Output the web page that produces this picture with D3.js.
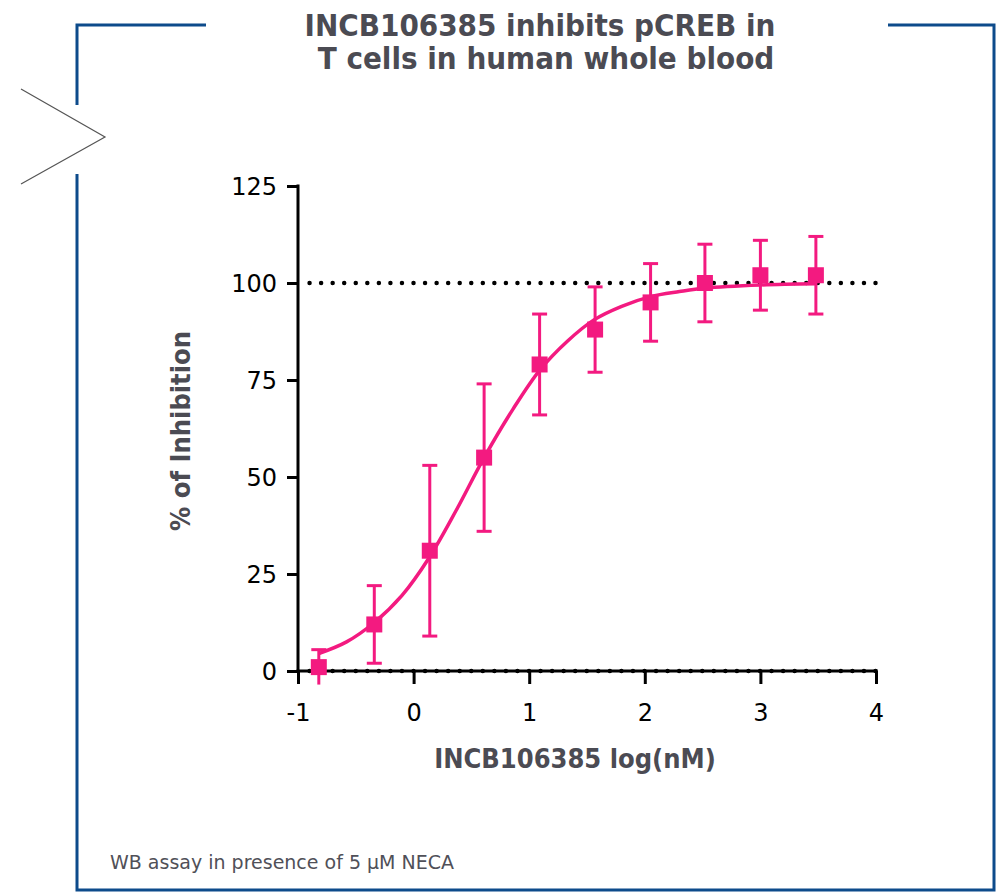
<!DOCTYPE html>
<html>
<head>
<meta charset="utf-8">
<script src="https://cdn.jsdelivr.net/npm/d3@7"></script>
<style>
  body { margin: 0; background: #fff; }
  svg { display: block; }
  .tick text { font-family: "DejaVu Sans", sans-serif; font-size: 24px; fill: #000; }
  .title-text { font-family: "DejaVu Sans Condensed", "DejaVu Sans", sans-serif; font-weight: bold; font-size: 31px; fill: #4b4b53; }
  .aText { font-family: "DejaVu Sans Condensed", "DejaVu Sans", sans-serif; font-weight: bold; font-size: 27px; fill: #4b4b53; }
  .note { font-family: "DejaVu Sans", sans-serif; font-size: 19px; fill: #505058; }
</style>
</head>
<body>
<div class="chart"></div>
<script>
var svgWidth = 999;
var svgHeight = 894;

// data
var logConc = [-0.82, -0.34, 0.14, 0.61, 1.09, 1.57, 2.05, 2.52, 3.00, 3.48];
var meanInh = [1, 12, 31, 55, 79, 88, 95, 100, 102, 102];
var errInh = [4.5, 10, 22, 19, 13, 11, 10, 10, 9, 10];

// fitted curve, points
var fitX = [-0.82, -0.58, -0.34, -0.1, 0.13, 0.37, 0.61, 0.86, 1.09, 1.33, 1.56, 1.8, 2.05, 2.3, 2.52, 3.0, 3.48];
var fitY = [4.5, 7.5, 12.5, 19.5, 29, 41.5, 55, 67.5, 77.5, 85, 90.5, 94, 96.5, 97.8, 98.7, 99.5, 99.8];

var xTicks = [-1, 0, 1, 2, 3, 4];
var yTicks = [0, 25, 50, 75, 100, 125];
var refLines = [0, 100];

var pink = "#f31a80";
var frameBlue = "#0d4b8b";

// plot area
var margin = { top: 186, left: 298 };
var width = 876 - 298;
var height = 671 - 186;

var svg = d3.select(".chart").append("svg")
  .attr("width", svgWidth)
  .attr("height", svgHeight);

// outer frame with the open corners
var frame = "M206,25 H77 V105 M77,174 V890 H994 V25 H888";
svg.append("path")
  .attr("d", frame)
  .attr("fill", "none")
  .attr("stroke", frameBlue)
  .attr("stroke-width", 3);

// arrow notch on the left
svg.append("path")
  .attr("d", "M21,89 L105,137 L21,184")
  .attr("fill", "none")
  .attr("stroke", "#555")
  .attr("stroke-width", 1.2);

// title
var title = svg.append("text")
  .classed("title-text", true)
  .attr("text-anchor", "middle");
title.append("tspan").attr("x", 540).attr("y", 36).text("INCB106385 inhibits pCREB in");
title.append("tspan").attr("x", 546).attr("y", 69).text("T cells in human whole blood");

var chartGroup = svg.append("g")
  .attr("transform", `translate(${margin.left}, ${margin.top})`);

var xScale = d3.scaleLinear().domain([-1, 4]).range([0, width]);
var yScale = d3.scaleLinear().domain([0, 125]).range([height, 0]);

// dotted reference lines
chartGroup.selectAll(".ref")
  .data(refLines)
  .enter()
  .append("line")
  .attr("x1", xScale(-0.9))
  .attr("x2", xScale(4))
  .attr("y1", d => yScale(d))
  .attr("y2", d => yScale(d))
  .attr("stroke", "#000")
  .attr("stroke-width", 4.5)
  .attr("stroke-linecap", "round")
  .attr("stroke-dasharray", "0 11.55");

// axes
var bottomAxis = d3.axisBottom(xScale).tickValues(xTicks).tickFormat(d => String(d))
  .tickSize(13).tickSizeOuter(0).tickPadding(20);
var leftAxis = d3.axisLeft(yScale).tickValues(yTicks)
  .tickSize(11).tickSizeOuter(0).tickPadding(10);

var xAxis = chartGroup.append("g")
  .attr("transform", `translate(0, ${height})`)
  .call(bottomAxis);

var yAxis = chartGroup.append("g")
  .call(leftAxis);

[xAxis, yAxis].forEach(function(ax) {
  ax.select(".domain").attr("stroke", "#000").attr("stroke-width", 3);
  ax.selectAll(".tick line").attr("stroke", "#000").attr("stroke-width", 3);
});
xAxis.select(".domain").attr("d", `M-1.5,0H${width + 1.5}`);
yAxis.select(".domain").attr("d", `M0,-1.5V${height}`);
yAxis.selectAll(".tick text").attr("dy", "0.36em");
xAxis.selectAll(".tick text").attr("dy", "0.7em");

// fitted curve
var fitData = fitX.map((x, i) => ({ x: x, y: fitY[i] }));
var line = d3.line()
  .x(d => xScale(d.x))
  .y(d => yScale(d.y))
  .curve(d3.curveCatmullRom);

chartGroup.append("path")
  .datum(fitData)
  .attr("d", line)
  .attr("fill", "none")
  .attr("stroke", pink)
  .attr("stroke-width", 3.5);

// points with error bars
var pts = logConc.map((x, i) => ({ x: x, y: meanInh[i], e: errInh[i] }));

var pointsGroup = chartGroup.selectAll(".pt")
  .data(pts)
  .enter()
  .append("g")
  .attr("transform", d => "translate(" + xScale(d.x) + ",0)");

pointsGroup.append("line")
  .attr("y1", d => yScale(d.y + d.e))
  .attr("y2", d => yScale(d.y - d.e))
  .attr("stroke", pink)
  .attr("stroke-width", 3);

pointsGroup.append("line")
  .attr("x1", -7.5).attr("x2", 7.5)
  .attr("y1", d => yScale(d.y + d.e))
  .attr("y2", d => yScale(d.y + d.e))
  .attr("stroke", pink)
  .attr("stroke-width", 3);

pointsGroup.filter(d => d.y - d.e > 0)
  .append("line")
  .attr("x1", -7.5).attr("x2", 7.5)
  .attr("y1", d => yScale(d.y - d.e))
  .attr("y2", d => yScale(d.y - d.e))
  .attr("stroke", pink)
  .attr("stroke-width", 3);

pointsGroup.append("rect")
  .attr("x", -8)
  .attr("y", d => yScale(d.y) - 8)
  .attr("width", 16)
  .attr("height", 16)
  .attr("fill", pink);

// axis labels
chartGroup.append("text")
  .classed("aText", true)
  .attr("text-anchor", "middle")
  .attr("x", 575 - margin.left)
  .attr("y", 768 - margin.top)
  .text("INCB106385 log(nM)");

chartGroup.append("text")
  .classed("aText", true)
  .attr("text-anchor", "middle")
  .attr("transform", `translate(${190 - margin.left}, ${431 - margin.top}) rotate(-90)`)
  .text("% of Inhibition");

// footnote
svg.append("text")
  .classed("note", true)
  .attr("x", 110)
  .attr("y", 869)
  .text("WB assay in presence of 5 µM NECA");
</script>
</body>
</html>
